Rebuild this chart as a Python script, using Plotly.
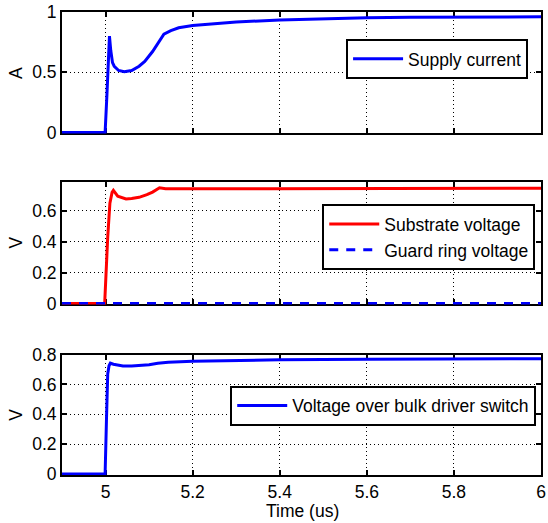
import plotly.graph_objects as go

# ---- data ----
t_supply = [4.9, 4.999, 5.003, 5.006, 5.009, 5.012, 5.016, 5.02, 5.03, 5.043, 5.06, 5.077,
            5.09, 5.108, 5.12, 5.134, 5.15, 5.168, 5.2, 5.25, 5.3, 5.4, 5.5, 5.6, 5.7, 5.8, 5.9, 6.0]
i_supply = [0, 0, 0.3, 0.6, 0.80, 0.68, 0.58, 0.55, 0.515, 0.505, 0.515, 0.55,
            0.59, 0.672, 0.74, 0.817, 0.845, 0.869, 0.888, 0.905, 0.917, 0.934, 0.945, 0.953, 0.956, 0.958, 0.959, 0.96]

t_sub = [4.9, 4.998, 5.005, 5.01, 5.015, 5.018, 5.028, 5.047, 5.06, 5.077, 5.095, 5.108, 5.124, 5.138, 5.38, 6.0]
v_sub = [0, 0, 0.43, 0.65, 0.72, 0.733, 0.695, 0.677, 0.68, 0.688, 0.705, 0.722, 0.75, 0.744, 0.743, 0.747]

t_guard = [4.9, 6.0]
v_guard = [0, 0]

t_bulk = [4.9, 4.999, 5.002, 5.005, 5.008, 5.011, 5.018, 5.03, 5.04, 5.06, 5.08, 5.1, 5.12, 5.144,
          5.2, 5.3, 5.4, 5.6, 5.8, 6.0]
v_bulk = [0, 0, 0.35, 0.67, 0.725, 0.743, 0.735, 0.727, 0.723, 0.723, 0.725, 0.732, 0.742, 0.749,
          0.755, 0.76, 0.765, 0.769, 0.771, 0.772]

x_ticks = [5, 5.2, 5.4, 5.6, 5.8, 6]
x_ticklabels = ["5", "5.2", "5.4", "5.6", "5.8", "6"]
y1_ticks = [0, 0.5, 1]
y1_ticklabels = ["0", "0.5", "1"]
y2_ticks = [0, 0.2, 0.4, 0.6]
y2_ticklabels = ["0", "0.2", "0.4", "0.6"]
y3_ticks = [0, 0.2, 0.4, 0.6, 0.8]
y3_ticklabels = ["0", "0.2", "0.4", "0.6", "0.8"]

FONT = "Liberation Sans, Arial, Helvetica, sans-serif"
FS = 17.5

fig = go.Figure()
fig.add_trace(go.Scatter(x=t_supply, y=i_supply, mode="lines", name="Supply current",
                         line=dict(color="#0000ff", width=3), xaxis="x", yaxis="y", legend="legend"))
fig.add_trace(go.Scatter(x=t_sub, y=v_sub, mode="lines", name="Substrate voltage",
                         line=dict(color="#ff0000", width=3), xaxis="x2", yaxis="y2", legend="legend2"))
fig.add_trace(go.Scatter(x=t_guard, y=v_guard, mode="lines", name="Guard ring voltage",
                         line=dict(color="#0000ff", width=3, dash="9px,8px"), xaxis="x2", yaxis="y2",
                         legend="legend2"))
fig.add_trace(go.Scatter(x=t_bulk, y=v_bulk, mode="lines", name="Voltage over bulk driver switch",
                         line=dict(color="#0000ff", width=3), xaxis="x3", yaxis="y3", legend="legend3"))

ax = dict(showline=True, linecolor="black", linewidth=2, mirror="ticks", ticks="inside", ticklen=5,
          tickwidth=2, tickcolor="black", showgrid=True, gridcolor="black", gridwidth=1,
          griddash="1px,3px", zeroline=False, layer="below traces", ticklabeloverflow="allow",
          tickfont=dict(size=FS, color="black", family=FONT))

doms = [[0.7376, 1.0], [0.3684, 0.6337], [0.0, 0.2602]]

lay = dict(width=548, height=523, margin=dict(l=62, r=2, t=10, b=48),
           paper_bgcolor="white", plot_bgcolor="white", showlegend=True,
           font=dict(family=FONT, size=FS, color="black"))

for i, (yt, ytl, yr) in enumerate([(y1_ticks, y1_ticklabels, [-0.008, 1]),
                                    (y2_ticks, y2_ticklabels, [-0.006, 0.79]),
                                    (y3_ticks, y3_ticklabels, [-0.006, 0.8])]):
    s = "" if i == 0 else str(i + 1)
    lay["xaxis" + s] = dict(ax, range=[4.9, 6], tickvals=x_ticks, ticktext=x_ticklabels,
                            showticklabels=(i == 2), anchor="y" + s, domain=[0, 1])
    lay["yaxis" + s] = dict(ax, range=yr, tickvals=yt, ticktext=ytl, anchor="x" + s, domain=doms[i])

leg = dict(xref="paper", yref="paper", xanchor="right", yanchor="top", bordercolor="black",
           borderwidth=2, bgcolor="white", font=dict(size=FS, family=FONT, color="black"),
           tracegroupgap=0, itemwidth=50)
lay["legend"] = dict(leg, x=0.973, y=0.942)
lay["legend2"] = dict(leg, x=0.988, y=0.585)
lay["legend3"] = dict(leg, x=0.990, y=0.193)

ann = []
for txt, yy in [("A", 0.8695), ("V", 0.503), ("V", 0.131)]:
    ann.append(dict(text=txt, x=-0.095, y=yy, xref="paper", yref="paper", showarrow=False,
                    textangle=-90, xanchor="center", yanchor="middle", font=dict(size=FS)))
ann.append(dict(text="Time (us)", x=0.502, y=-0.0774, xref="paper", yref="paper", showarrow=False,
                xanchor="center", yanchor="middle", font=dict(size=FS)))
lay["annotations"] = ann

fig.update_layout(**lay)
fig.write_html("out.html")
